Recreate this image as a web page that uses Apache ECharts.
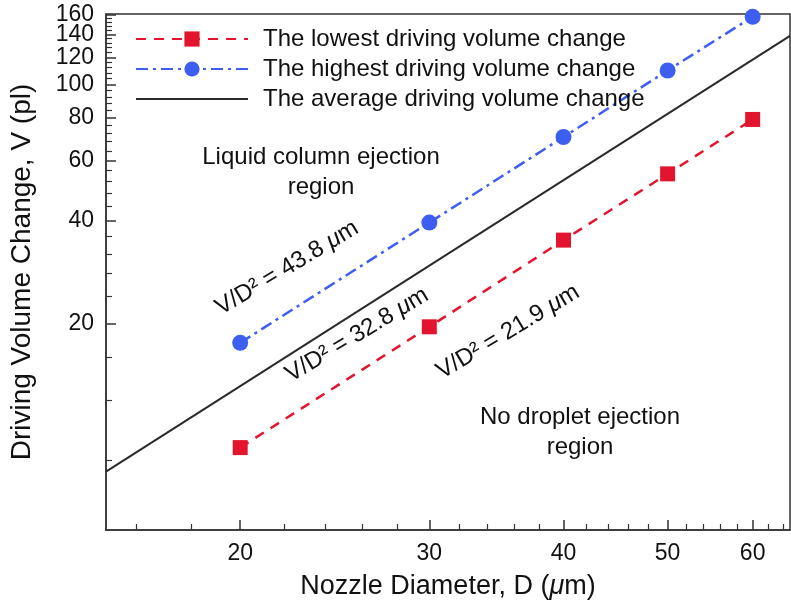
<!DOCTYPE html>
<html>
<head>
<meta charset="utf-8">
<script src="https://cdn.jsdelivr.net/npm/echarts@6/dist/echarts.min.js"></script>
<style>
html,body{margin:0;padding:0;background:#fff;}
#c{width:791px;height:607px;}
</style>
</head>
<body>
<div id="c"></div>
<script>
// ---- data ----
const diameters = [20, 30, 40, 50, 60];
const lowestV = [8.7, 19.6, 35.1, 54.8, 79.0];
const highestV = [17.6, 39.5, 70.2, 109.8, 157.5];
const averageD = [15, 65];
const averageV = [7.4, 138.6];

const xMajorTicks = [20, 30, 40, 50, 60];
const xMinorTicks = [16, 18, 22, 24, 26, 28, 32, 34, 36, 38, 42, 44, 46, 48, 52, 54, 56, 58, 62, 64];
const yMajorTicks = [20, 40, 60, 80, 100, 120, 140, 160];
const yMinorTicks = [8, 12, 16, 24, 28, 32, 36, 44, 48, 52, 56, 64, 68, 72, 76, 84, 88, 92, 96,
  104, 108, 112, 116, 124, 128, 132, 136, 144, 148, 152, 156];

const seriesNames = [
  'The lowest driving volume change',
  'The highest driving volume change',
  'The average driving volume change'
];

const FONT = '"Liberation Sans", Arial, Helvetica, sans-serif';
const AXIS_COLOR = '#333';
const RED = '#e3142d';
const BLUE = '#3d5ef0';
const BLACK = '#2a2a2a';

// split the major labels across two overlaid axes so that the dense upper labels are all kept
const yLabelsA = yMajorTicks.filter((v, i) => i % 2 === 0);
const yLabelsB = yMajorTicks.filter((v, i) => i % 2 === 1);

const chart = echarts.init(document.getElementById('c'), null, {renderer: 'canvas'});

function xAxisBase(extra) {
  return Object.assign({
    type: 'log', logBase: 10, min: 15, max: 65, gridIndex: 0, position: 'bottom',
    splitLine: {show: false}, minorTick: {show: false}
  }, extra);
}
function yAxisBase(extra) {
  return Object.assign({
    type: 'log', logBase: 10, min: 5, max: 160.5, gridIndex: 0, position: 'left',
    splitLine: {show: false}, minorTick: {show: false}
  }, extra);
}
const yLabelStyle = {show: true, fontSize: 23, lineHeight: 17, color: '#111', margin: 12, fontFamily: FONT, showMaxLabel: true, showMinLabel: true, hideOverlap: false};

const option = {
  backgroundColor: '#fff',
  animation: false,
  textStyle: {fontFamily: FONT},
  grid: {left: 103, right: 1, top: 14, bottom: 77, show: true, borderColor: AXIS_COLOR, borderWidth: 1.5, backgroundColor: 'transparent'},
  legend: {
    orient: 'vertical', left: 130, top: 22, itemWidth: 112, itemHeight: 19, itemGap: 6,
    data: [
      {name: seriesNames[0]},
      {name: seriesNames[1]},
      {name: seriesNames[2], itemStyle: {color: 'rgba(0,0,0,0)', borderWidth: 0, opacity: 0}}
    ],
    textStyle: {fontSize: 24, color: '#111', fontFamily: FONT, lineHeight: 19, padding: [0, 0, 0, 10]}
  },
  xAxis: [
    xAxisBase({
      axisLine: {show: true, lineStyle: {color: AXIS_COLOR, width: 1.5}},
      axisTick: {show: true, inside: true, length: 10, customValues: xMajorTicks, lineStyle: {color: AXIS_COLOR, width: 1.5}},
      axisLabel: {show: true, customValues: xMajorTicks, fontSize: 23, color: '#111', margin: 12, fontFamily: FONT},
      name: '{a|Nozzle Diameter, D (}{i|μ}{a|m)}',
      nameLocation: 'middle', nameGap: 43,
      nameTextStyle: {rich: {
        a: {fontSize: 27, color: '#111', fontFamily: FONT},
        i: {fontSize: 27, color: '#111', fontFamily: FONT, fontStyle: 'italic'}
      }}
    }),
    xAxisBase({
      axisLine: {show: false},
      axisTick: {show: true, inside: true, length: 6, customValues: xMinorTicks, lineStyle: {color: AXIS_COLOR, width: 1.2}},
      axisLabel: {show: false}
    })
  ],
  yAxis: [
    yAxisBase({
      axisLine: {show: true, lineStyle: {color: AXIS_COLOR, width: 1.5}},
      axisTick: {show: true, inside: true, length: 10, customValues: yMajorTicks, lineStyle: {color: AXIS_COLOR, width: 1.5}},
      axisLabel: Object.assign({customValues: yLabelsA}, yLabelStyle),
      name: 'Driving Volume Change, V (pl)',
      nameLocation: 'middle', nameGap: 70,
      nameTextStyle: {fontSize: 28, color: '#111', fontFamily: FONT}
    }),
    yAxisBase({
      axisLine: {show: false},
      axisTick: {show: true, inside: true, length: 6, customValues: yMinorTicks, lineStyle: {color: AXIS_COLOR, width: 1.2}},
      axisLabel: Object.assign({customValues: yLabelsB}, yLabelStyle)
    })
  ],
  series: [
    {
      name: seriesNames[0], type: 'line', xAxisIndex: 0, yAxisIndex: 0,
      data: diameters.map((d, i) => [d, lowestV[i]]),
      symbol: 'rect', symbolSize: 15,
      lineStyle: {color: RED, width: 2.5, type: [10, 8]},
      itemStyle: {color: RED},
      z: 3
    },
    {
      name: seriesNames[1], type: 'line', xAxisIndex: 0, yAxisIndex: 0,
      data: diameters.map((d, i) => [d, highestV[i]]),
      symbol: 'circle', symbolSize: 16,
      lineStyle: {color: BLUE, width: 2.5, type: [12, 5, 3, 5]},
      itemStyle: {color: BLUE},
      z: 3
    },
    {
      name: seriesNames[2], type: 'line', xAxisIndex: 0, yAxisIndex: 0,
      data: averageD.map((d, i) => [d, averageV[i]]),
      symbol: 'none', showSymbol: false,
      lineStyle: {color: BLACK, width: 2},
      itemStyle: {color: BLACK},
      z: 2
    }
  ],
  graphic: [
    {type: 'text', x: 321, y: 172, z: 10, style: {text: 'Liquid column ejection\nregion', fontSize: 24, fontFamily: FONT, fill: '#111', align: 'center', verticalAlign: 'middle', lineHeight: 30}},
    {type: 'text', x: 580, y: 432, z: 10, style: {text: 'No droplet ejection\nregion', fontSize: 24, fontFamily: FONT, fill: '#111', align: 'center', verticalAlign: 'middle', lineHeight: 30}},
    {type: 'text', x: 287, y: 268, rotation: 31 * Math.PI / 180, z: 10, style: {
      text: '{a|V/D² = 43.8 }{i|μ}{a|m}', align: 'center', verticalAlign: 'middle',
      rich: {a: {fontSize: 24, fontFamily: FONT, fill: '#111'}, i: {fontSize: 24, fontFamily: FONT, fill: '#111', fontStyle: 'italic'}}
    }},
    {type: 'text', x: 357, y: 335, rotation: 31 * Math.PI / 180, z: 10, style: {
      text: '{a|V/D² = 32.8 }{i|μ}{a|m}', align: 'center', verticalAlign: 'middle',
      rich: {a: {fontSize: 24, fontFamily: FONT, fill: '#111'}, i: {fontSize: 24, fontFamily: FONT, fill: '#111', fontStyle: 'italic'}}
    }},
    {type: 'text', x: 508, y: 332, rotation: 31 * Math.PI / 180, z: 10, style: {
      text: '{a|V/D² = 21.9 }{i|μ}{a|m}', align: 'center', verticalAlign: 'middle',
      rich: {a: {fontSize: 24, fontFamily: FONT, fill: '#111'}, i: {fontSize: 24, fontFamily: FONT, fill: '#111', fontStyle: 'italic'}}
    }}
  ]
};

chart.setOption(option);
</script>
</body>
</html>
